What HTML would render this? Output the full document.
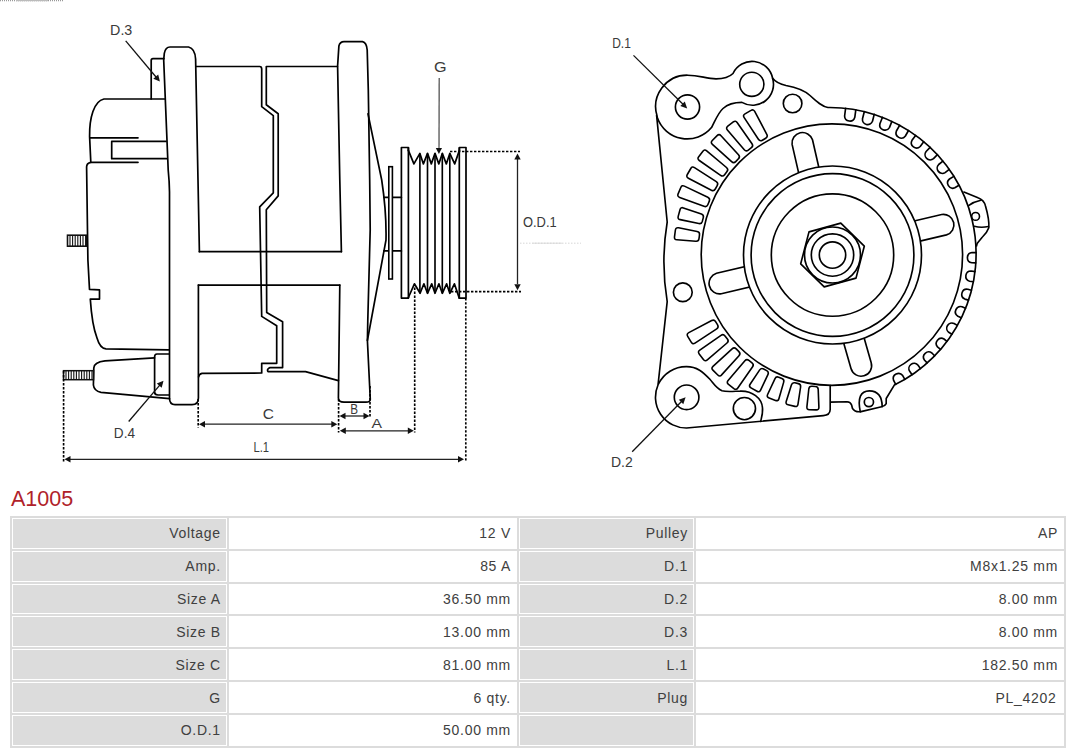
<!DOCTYPE html>
<html><head><meta charset="utf-8"><style>
html,body{margin:0;padding:0;background:#fff;}
body{width:1080px;height:753px;overflow:hidden;position:relative;font-family:"Liberation Sans",sans-serif;}
svg{position:absolute;left:0;top:0;}
h1{position:absolute;left:11px;top:484.5px;margin:0;font-size:21.5px;font-weight:normal;color:#b0222a;line-height:28px;}
table{position:absolute;left:10px;top:515.8px;width:1056px;border-collapse:separate;border-spacing:2px;background:#dcdcdc;}
th,td{border:1px solid #fff;padding:0 5px 0 0;height:30.86px;box-sizing:border-box;text-align:right;font-size:14px;font-weight:normal;color:#404040;letter-spacing:0.7px;}
th{background:#dcdcdc;}
td{background:#fff;}
.c1{width:215px} .c2{width:288.4px} .c3{width:175.2px} .c4{width:368.3px}
</style></head><body>
<svg width="1080" height="475" viewBox="0 0 1080 475">
<line x1="0" y1="0.6" x2="63" y2="0.6" stroke="#999" stroke-width="1.2" stroke-dasharray="1,1"/><line x1="16" y1="0.6" x2="48" y2="0.6" stroke="#bbb" stroke-width="1.2"/>
<path fill="none" stroke="#000" stroke-width="1.7" stroke-linejoin="round" stroke-linecap="round" d="M151.2,99 L151.2,60.5 Q151.2,58.7 153,58.7 L163.9,58.7"/>
<path fill="none" stroke="#000" stroke-width="1.7" stroke-linejoin="round" stroke-linecap="round" d="M164.5,99 L103.9,99 C94,101 89.3,118 89.6,136.6 L90.8,162.3"/>
<path fill="none" stroke="#000" stroke-width="1.7" stroke-linejoin="round" stroke-linecap="round" d="M90.2,137.8 L138,137.8"/>
<path fill="none" stroke="#000" stroke-width="1.7" stroke-linejoin="round" stroke-linecap="round" d="M166,141.4 L111.7,141.4 L111.7,158.7 L166.5,158.7"/>
<path fill="none" stroke="#000" stroke-width="1.7" stroke-linejoin="round" stroke-linecap="round" d="M138,162.3 L90.8,162.3 Q86.6,163 86.6,167 L87.9,260 L89.5,289.4 L99.5,289.9 L99.5,299.1 L90.3,299.1 Q92,325 97,338 Q100,348.5 106,348.8 L168.5,349.8"/>
<path fill="none" stroke="#000" stroke-width="1.7" stroke-linejoin="round" stroke-linecap="round" d="M169.5,398 L169.5,192 Q169.4,182 168.2,170 L163.7,60 L164.3,53.3 Q165.5,47 170,47 L188.6,47 Q195,48.5 195.6,59 L198,180 L199.4,251.7 M198.4,285 L198.4,398 Q198.4,404.6 192,404.6 L175,404.6 Q169.5,404.6 169.5,398"/>
<rect x="67.5" y="235.2" width="19" height="11" fill="#fff" stroke="#111" stroke-width="1.6"/>
<line x1="70" y1="235.5" x2="70" y2="246" stroke="#111" stroke-width="1.1"/>
<line x1="72.6" y1="235.5" x2="72.6" y2="246" stroke="#111" stroke-width="1.1"/>
<line x1="75.2" y1="235.5" x2="75.2" y2="246" stroke="#111" stroke-width="1.1"/>
<line x1="77.8" y1="235.5" x2="77.8" y2="246" stroke="#111" stroke-width="1.1"/>
<line x1="80.4" y1="235.5" x2="80.4" y2="246" stroke="#111" stroke-width="1.1"/>
<line x1="83" y1="235.5" x2="83" y2="246" stroke="#111" stroke-width="1.1"/>
<line x1="85.6" y1="235.5" x2="85.6" y2="246" stroke="#111" stroke-width="1.1"/>
<path fill="none" stroke="#000" stroke-width="1.7" stroke-linejoin="round" stroke-linecap="round" d="M154.6,357.8 L105,360.8 Q94,362 93.8,368 L93.4,385 Q94,391 101,392.3 L169.5,398.6"/>
<path fill="none" stroke="#000" stroke-width="1.7" stroke-linejoin="round" stroke-linecap="round" d="M169,354 L157,354 Q154.6,354 154.6,357 L154.6,392 Q154.6,395 158,395 L169,395"/>
<rect x="63.5" y="370.7" width="30" height="9" fill="#fff" stroke="#111" stroke-width="1.5"/>
<line x1="66" y1="371" x2="66" y2="379.5" stroke="#111" stroke-width="1.1"/>
<line x1="68.6" y1="371" x2="68.6" y2="379.5" stroke="#111" stroke-width="1.1"/>
<line x1="71.2" y1="371" x2="71.2" y2="379.5" stroke="#111" stroke-width="1.1"/>
<line x1="73.8" y1="371" x2="73.8" y2="379.5" stroke="#111" stroke-width="1.1"/>
<line x1="76.4" y1="371" x2="76.4" y2="379.5" stroke="#111" stroke-width="1.1"/>
<line x1="79" y1="371" x2="79" y2="379.5" stroke="#111" stroke-width="1.1"/>
<line x1="81.6" y1="371" x2="81.6" y2="379.5" stroke="#111" stroke-width="1.1"/>
<line x1="84.2" y1="371" x2="84.2" y2="379.5" stroke="#111" stroke-width="1.1"/>
<line x1="86.8" y1="371" x2="86.8" y2="379.5" stroke="#111" stroke-width="1.1"/>
<line x1="89.4" y1="371" x2="89.4" y2="379.5" stroke="#111" stroke-width="1.1"/>
<line x1="92" y1="371" x2="92" y2="379.5" stroke="#111" stroke-width="1.1"/>
<path fill="none" stroke="#000" stroke-width="1.7" stroke-linejoin="round" stroke-linecap="round" d="M195.8,66.5 L259.7,66.5 Q261.7,66.5 261.7,69 L261.7,106.7 L273.3,115.7 L273.3,192.9 L259.7,206.9 L261.7,316.4 L276.7,325.8 L276.7,363.3 L261.7,363.3 L261.7,373 L202,373.3 Q199,373.8 198.6,377"/>
<path fill="none" stroke="#000" stroke-width="1.7" stroke-linejoin="round" stroke-linecap="round" d="M337.4,66.5 L266.3,66.5 L266.3,104.7 L278.2,113.7 L278.2,195.9 L266.3,209.8 L266.7,312.4 L282.6,321.8 L282.6,367.6 L270,367.6 Q266.5,369 268,371.6 L305.5,371.6 L338.4,380.6"/>
<path fill="none" stroke="#000" stroke-width="1.7" stroke-linejoin="round" stroke-linecap="round" d="M199.4,251.7 L341.4,251.7 M198.4,285.1 L339.8,285.1"/>
<path fill="none" stroke="#000" stroke-width="1.7" stroke-linejoin="round" stroke-linecap="round" d="M341.4,251.7 L339.8,180 L337.6,66 L338.9,45.9 Q340,41.6 344,41.6 L362.5,41.6 Q366.6,42.5 367.2,50 L368.3,90 L369.7,180 L370.2,230 L367.8,320 L367.4,340.5 L370.3,399.5 Q370,402.2 366,402.2 L344,402.2 Q338.4,402 338.4,398 L339.8,285.1"/>
<path fill="none" stroke="#000" stroke-width="1.7" stroke-linejoin="round" stroke-linecap="round" d="M368,113.9 L381.7,180 Q386.6,212 386,240 L367.4,340.5"/>
<path fill="none" stroke="#000" stroke-width="1.7" stroke-linejoin="round" stroke-linecap="round" d="M384,197.3 L388.8,197.3 M392.4,197.3 L401.4,197.3 M383.9,250.9 L388.8,250.9 M392.4,250.9 L401.4,250.9"/>
<rect x="388.8" y="166.7" width="3.6" height="112.3" fill="#fff" stroke="#000" stroke-width="1.6"/>
<path fill="none" stroke="#000" stroke-width="1.7" stroke-linejoin="round" stroke-linecap="round" d="M408.4,150.4 L408.4,147.5 L401.4,147.5 L401.4,298.1 L408.4,298.1 L408.4,297.5"/>
<path fill="none" stroke="#000" stroke-width="1.7" stroke-linejoin="round" stroke-linecap="round" d="M459.4,150.4 L459.4,147.5 L466,147.5 L466,298.1 L459.2,298.1"/>
<line x1="408.4" y1="147.5" x2="408.4" y2="298.1" stroke="#000" stroke-width="1.7"/>
<line x1="459.3" y1="147.5" x2="459.3" y2="298.1" stroke="#000" stroke-width="1.7"/>
<polyline fill="none" stroke="#000" stroke-width="1.7" stroke-linejoin="round" stroke-linecap="round" points="408.4,150.4 413.9,163.9 419.9,153.4 423.4,163.9 427.5,153.4 431.3,163.9 435,153.4 438.8,163.9 442.3,153.4 446.3,163.9 449.8,153.4 454.7,163.9 459.4,150.4"/>
<polyline fill="none" stroke="#000" stroke-width="1.7" stroke-linejoin="round" stroke-linecap="round" points="408.4,297.5 414.4,283.8 420.1,293.3 423.9,283.8 427.5,293.3 431.7,283.8 435,293.3 438.9,283.8 442.3,293.3 446.6,283.8 449.8,293.3 454.4,283.8 459.2,298.1"/>
<line x1="419.9" y1="153.4" x2="419.9" y2="293.3" stroke="#000" stroke-width="1.65"/>
<line x1="427.5" y1="153.4" x2="427.5" y2="293.3" stroke="#000" stroke-width="1.65"/>
<line x1="435" y1="153.4" x2="435" y2="293.3" stroke="#000" stroke-width="1.65"/>
<line x1="442.3" y1="153.4" x2="442.3" y2="293.3" stroke="#000" stroke-width="1.65"/>
<line x1="449.8" y1="153.4" x2="449.8" y2="293.3" stroke="#000" stroke-width="1.65"/>
<line x1="450" y1="151.5" x2="520" y2="151.5" stroke="#000" stroke-width="1.65" stroke-dasharray="2.4,1.6" fill="none"/>
<line x1="451" y1="291.6" x2="521" y2="291.6" stroke="#000" stroke-width="1.65" stroke-dasharray="2.4,1.6" fill="none"/>
<line x1="517.5" y1="158" x2="517.5" y2="284" stroke="#222" stroke-width="1.3" fill="none"/>
<polygon points="517.5,153.5 520.7,159.5 514.3,159.5" fill="#111"/>
<polygon points="517.5,290.3 514.3,284.3 520.7,284.3" fill="#111"/>
<line x1="520" y1="243.2" x2="581" y2="243.2" stroke="#ccc" stroke-width="0.8" stroke-dasharray="1.5,1.5"/><line x1="532.5" y1="243.2" x2="562" y2="243.2" stroke="#d4d4d4" stroke-width="0.8"/>
<line x1="439.2" y1="78" x2="439" y2="149" stroke="#555" stroke-width="1.3"/>
<polygon points="438.9,154 435.8,148 442,148" fill="#111"/>
<line x1="63.6" y1="371" x2="63.6" y2="461.5" stroke="#000" stroke-width="1.65" stroke-dasharray="2.4,1.6" fill="none"/>
<line x1="198.2" y1="399" x2="198.2" y2="427.5" stroke="#000" stroke-width="1.65" stroke-dasharray="2.4,1.6" fill="none"/>
<line x1="338.6" y1="399" x2="338.6" y2="432.6" stroke="#000" stroke-width="1.65" stroke-dasharray="2.4,1.6" fill="none"/>
<line x1="370" y1="386" x2="370" y2="417.5" stroke="#000" stroke-width="1.65" stroke-dasharray="2.4,1.6" fill="none"/>
<line x1="414.7" y1="287.5" x2="414.7" y2="432.6" stroke="#000" stroke-width="1.65" stroke-dasharray="2.4,1.6" fill="none"/>
<line x1="465.8" y1="298.2" x2="465.8" y2="461.6" stroke="#000" stroke-width="1.65" stroke-dasharray="2.4,1.6" fill="none"/>
<line x1="204" y1="424.2" x2="332" y2="424.2" stroke="#222" stroke-width="1.3" fill="none"/>
<polygon points="199,424.2 205,421 205,427.4" fill="#111"/>
<polygon points="337.3,424.2 331.3,427.4 331.3,421" fill="#111"/>
<line x1="344" y1="416" x2="365" y2="416" stroke="#222" stroke-width="1.3" fill="none"/>
<polygon points="339.5,416 345.5,412.8 345.5,419.2" fill="#111"/>
<polygon points="369.5,416 363.5,419.2 363.5,412.8" fill="#111"/>
<line x1="345" y1="430.8" x2="408.5" y2="430.8" stroke="#222" stroke-width="1.3" fill="none"/>
<polygon points="339.8,430.8 345.8,427.6 345.8,434" fill="#111"/>
<polygon points="413.8,430.8 407.8,434 407.8,427.6" fill="#111"/>
<line x1="70" y1="459.3" x2="459" y2="459.3" stroke="#222" stroke-width="1.3" fill="none"/>
<polygon points="64.5,459.3 70.5,456.1 70.5,462.5" fill="#111"/>
<polygon points="464,459.3 458,462.5 458,456.1" fill="#111"/>
<line x1="125.7" y1="40.9" x2="156" y2="77" stroke="#111" stroke-width="1.3"/>
<polygon points="159.9,81.6 153.3,78.7 158.2,74.6" fill="#111"/>
<line x1="128.7" y1="421.5" x2="160" y2="384.8" stroke="#111" stroke-width="1.3"/>
<polygon points="163.5,380.7 161.7,387.7 156.8,383.6" fill="#111"/>
<path fill="none" stroke="#000" stroke-width="1.65" stroke-linejoin="round" stroke-linecap="round" fill="#fff" d="M805.5,202.9 L792.1,144.4 A10.5,10.5 0 0 1 812.5,139.8 L825.9,198.2"/>
<path fill="none" stroke="#000" stroke-width="1.65" stroke-linejoin="round" stroke-linecap="round" fill="#fff" d="M883.3,228.2 L941.7,214.5 A10.5,10.5 0 0 1 946.5,234.9 L888.1,248.6"/>
<path fill="none" stroke="#000" stroke-width="1.65" stroke-linejoin="round" stroke-linecap="round" fill="#fff" d="M854.7,305.1 L871.2,362.8 A10.5,10.5 0 0 1 851,368.6 L834.5,310.9"/>
<path fill="none" stroke="#000" stroke-width="1.65" stroke-linejoin="round" stroke-linecap="round" fill="#fff" d="M779.7,279.9 L721.3,293.7 A10.5,10.5 0 0 1 716.5,273.3 L774.9,259.5"/>
<circle cx="832.5" cy="255" r="89" fill="#fff" stroke="#000" stroke-width="1.65"/>
<circle cx="832.5" cy="255" r="81.4" fill="none" stroke="#000" stroke-width="1.65"/>
<circle cx="832.5" cy="255" r="61.2" fill="none" stroke="#000" stroke-width="1.65"/>
<circle cx="832.5" cy="255" r="28" fill="none" stroke="#000" stroke-width="1.65"/>
<circle cx="832.5" cy="255" r="21.2" fill="none" stroke="#000" stroke-width="1.65"/>
<circle cx="832.5" cy="255" r="13.2" fill="none" stroke="#000" stroke-width="1.65"/>
<circle cx="831.9" cy="254.6" r="130.7" fill="none" stroke="#000" stroke-width="1.65"/>
<polygon fill="none" stroke="#000" stroke-width="1.65" stroke-linejoin="round" stroke-linecap="round" points="864.3,246.2 856,278.1 824.2,286.9 800.7,263.8 809,231.9 840.8,223.1"/>
<path fill="none" stroke="#000" stroke-width="1.65" stroke-linejoin="round" stroke-linecap="round" d="M656.6,115.3 L667.2,222 Q660.6,261.8 667.2,301.6 L658,385 M657.2,116.5 A31.6,31.6 0 0 1 687.5,75.2 C700,75.2 706,78.8 716,78.8 C724,78.8 729,77.5 733,73.5 A21,21 0 0 1 772.6,78.2 C776,82.5 779,84 786,85.5 C797,87.5 804,90 810,95.5 C817,102 822,106.5 827.9,107.5 A146.3,146.3 0 0 1 894.3,385.1 L886.2,398.5 L886.2,403.6 Q885,406.2 881.6,406.7 L861,411.6 Q855.2,412.5 852.5,408.5 L851.6,405 Q850.5,402.1 847,401.8 L830.2,402.1 M830.2,385.5 L830.2,409.5 Q830,415.3 823.3,415.6 L686.6,428 A30.8,30.8 0 0 1 658,385"/>
<path fill="none" stroke="#000" stroke-width="1.65" stroke-linejoin="round" stroke-linecap="round" d="M657.3,117.5 A31.6,31.6 0 0 0 711.7,127.3 C715,121 718,113 723,108.5 C728,104 735,102.4 741.9,102.4 A21,21 0 0 0 772.6,78.2"/>
<circle cx="751.8" cy="84.3" r="12.1" fill="none" stroke="#000" stroke-width="1.65"/>
<circle cx="687.5" cy="107" r="12.1" fill="none" stroke="#000" stroke-width="1.65"/>
<circle cx="792.6" cy="103.5" r="9.3" fill="none" stroke="#000" stroke-width="1.65"/>
<circle cx="682.8" cy="292.2" r="9.4" fill="none" stroke="#000" stroke-width="1.65"/>
<path fill="none" stroke="#000" stroke-width="1.65" stroke-linejoin="round" stroke-linecap="round" d="M658.5,384 A30.8,30.8 0 0 1 686.6,366.6 C697,366.6 703,372 709.9,379.3 C714,384 716,388 722,390.8 C727,392.2 735,391.2 740,391.1 C752,390.5 762,398 762.5,408 C763,414 761.5,418 760.6,421.5"/>
<circle cx="686.6" cy="397.3" r="12.3" fill="none" stroke="#000" stroke-width="1.65"/>
<circle cx="744.4" cy="408.6" r="11.1" fill="none" stroke="#000" stroke-width="1.65"/>
<path fill="none" stroke="#000" stroke-width="1.65" stroke-linejoin="round" stroke-linecap="round" d="M963.9,192 L978,197.8 Q984,200 985.5,206 Q989.5,220 988.8,227.8 Q987,233 982,237.5 L977.5,243 Q976.6,244.5 976.6,246"/>
<path fill="none" stroke="#000" stroke-width="1.65" stroke-linejoin="round" stroke-linecap="round" d="M968.9,205.4 Q974,201.5 980.8,200.2 M974.4,226.3 Q981,228 988.5,226.5"/>
<circle cx="975.6" cy="216.4" r="3.9" fill="none" stroke="#000" stroke-width="1.6"/>
<path fill="none" stroke="#000" stroke-width="1.65" stroke-linejoin="round" stroke-linecap="round" d="M860.3,411.8 Q856,391 869.4,390.9 Q882,391 882.2,406.7"/>
<circle cx="868.9" cy="402.1" r="4.6" fill="none" stroke="#000" stroke-width="1.7"/>
<path fill="none" stroke="#000" stroke-width="1.65" stroke-linejoin="round" stroke-linecap="round" stroke-width="1.6" d="M855.8,109.8 L854.8,117.3 A5.2,5.2 0 0 1 844.6,116 L845.6,108.4"/>
<path fill="none" stroke="#000" stroke-width="1.65" stroke-linejoin="round" stroke-linecap="round" stroke-width="1.6" d="M874.2,114.4 L872.5,121.3 A5.2,5.2 0 0 1 862.5,118.7 L864.3,111.7"/>
<path fill="none" stroke="#000" stroke-width="1.65" stroke-linejoin="round" stroke-linecap="round" stroke-width="1.6" d="M891.9,121.4 L889.4,127.6 A5.2,5.2 0 0 1 879.9,123.7 L882.5,117.3"/>
<path fill="none" stroke="#000" stroke-width="1.65" stroke-linejoin="round" stroke-linecap="round" stroke-width="1.6" d="M908.5,130.5 L905.4,136 A5.2,5.2 0 0 1 896.4,131 L899.6,125.3"/>
<path fill="none" stroke="#000" stroke-width="1.65" stroke-linejoin="round" stroke-linecap="round" stroke-width="1.6" d="M923.7,141.7 L920.2,146.5 A5.2,5.2 0 0 1 912,140.3 L915.6,135.4"/>
<path fill="none" stroke="#000" stroke-width="1.65" stroke-linejoin="round" stroke-linecap="round" stroke-width="1.6" d="M937.4,154.7 L933.5,158.7 A5.2,5.2 0 0 1 926.1,151.5 L930.1,147.4"/>
<path fill="none" stroke="#000" stroke-width="1.65" stroke-linejoin="round" stroke-linecap="round" stroke-width="1.6" d="M949.2,169.4 L945.1,172.6 A5.2,5.2 0 0 1 938.7,164.5 L942.9,161.2"/>
<path fill="none" stroke="#000" stroke-width="1.65" stroke-linejoin="round" stroke-linecap="round" stroke-width="1.6" d="M959,185.3 L954.8,187.8 A5.2,5.2 0 0 1 949.5,179 L953.8,176.4"/>
<path fill="none" stroke="#000" stroke-width="1.65" stroke-linejoin="round" stroke-linecap="round" stroke-width="1.6" d="M975.7,262.9 L971.8,262.8 A5.2,5.2 0 0 1 972,252.5 L976,252.6"/>
<path fill="none" stroke="#000" stroke-width="1.65" stroke-linejoin="round" stroke-linecap="round" stroke-width="1.6" d="M973.3,281.8 L969.6,281.2 A5.2,5.2 0 0 1 971.1,271 L974.9,271.6"/>
<path fill="none" stroke="#000" stroke-width="1.65" stroke-linejoin="round" stroke-linecap="round" stroke-width="1.6" d="M968.5,300.1 L964.9,299.1 A5.2,5.2 0 0 1 967.8,289.2 L971.4,290.2"/>
<path fill="none" stroke="#000" stroke-width="1.65" stroke-linejoin="round" stroke-linecap="round" stroke-width="1.6" d="M961.3,317.7 L957.9,316.2 A5.2,5.2 0 0 1 962.1,306.8 L965.5,308.3"/>
<path fill="none" stroke="#000" stroke-width="1.65" stroke-linejoin="round" stroke-linecap="round" stroke-width="1.6" d="M951.9,334.2 L948.7,332.3 A5.2,5.2 0 0 1 954.1,323.5 L957.3,325.4"/>
<path fill="none" stroke="#000" stroke-width="1.65" stroke-linejoin="round" stroke-linecap="round" stroke-width="1.6" d="M940.5,349.4 L937.5,346.9 A5.2,5.2 0 0 1 944,339 L946.9,341.3"/>
<path fill="none" stroke="#000" stroke-width="1.65" stroke-linejoin="round" stroke-linecap="round" stroke-width="1.6" d="M927.1,362.9 L924.4,360 A5.2,5.2 0 0 1 931.9,353 L934.6,355.8"/>
<path fill="none" stroke="#000" stroke-width="1.65" stroke-linejoin="round" stroke-linecap="round" stroke-width="1.6" d="M912.1,374.7 L909.7,371.3 A5.2,5.2 0 0 1 918.1,365.2 L920.4,368.6"/>
<path fill="none" stroke="#000" stroke-width="1.65" stroke-linejoin="round" stroke-linecap="round" stroke-width="1.6" d="M895.7,384.4 L893.6,380.4 A5.2,5.2 0 0 1 902.7,375.6 L904.8,379.4"/>
<path fill="none" stroke="#000" stroke-width="1.6" stroke-linejoin="round" d="M699.5,234.8 Q699.9,232 697.1,231.5 L678.6,227.8 Q675.8,227.2 675.4,230 L674.5,236.8 Q674.1,239.6 676.9,239.8 L695.8,241.2 Q698.6,241.5 699,238.7 Z"/>
<path fill="none" stroke="#000" stroke-width="1.6" stroke-linejoin="round" d="M703.3,217.6 Q704,214.9 701.4,214 L683.4,207.9 Q680.8,207 680,209.7 L678.2,216.4 Q677.5,219.1 680.2,219.6 L698.8,223.5 Q701.5,224.1 702.3,221.4 Z"/>
<path fill="none" stroke="#000" stroke-width="1.6" stroke-linejoin="round" d="M709.3,201.1 Q710.4,198.5 707.8,197.3 L684.4,186.1 Q681.9,184.9 680.8,187.5 L678.1,193.9 Q677,196.4 679.7,197.4 L704,206.3 Q706.7,207.3 707.8,204.7 Z"/>
<path fill="none" stroke="#000" stroke-width="1.6" stroke-linejoin="round" d="M717.2,185.7 Q718.6,183.2 716.3,181.7 L694.5,167.6 Q692.2,166.1 690.8,168.5 L687.3,174.5 Q685.9,176.9 688.4,178.2 L711.4,190.2 Q713.9,191.4 715.3,189 Z"/>
<path fill="none" stroke="#000" stroke-width="1.6" stroke-linejoin="round" d="M727,171.6 Q728.7,169.4 726.5,167.5 L706.7,150.8 Q704.6,149 702.9,151.2 L698.7,156.7 Q697,158.9 699.3,160.5 L720.6,175.3 Q722.9,176.9 724.6,174.7 Z"/>
<path fill="none" stroke="#000" stroke-width="1.6" stroke-linejoin="round" d="M738.4,158.8 Q740.4,156.9 738.5,154.8 L721,135.7 Q719.1,133.6 717.1,135.6 L712.3,140.5 Q710.3,142.5 712.4,144.3 L731.6,161.7 Q733.7,163.6 735.7,161.6 Z"/>
<path fill="none" stroke="#000" stroke-width="1.6" stroke-linejoin="round" d="M751.4,147.7 Q753.6,146 752,143.7 L737.1,122.5 Q735.5,120.2 733.3,121.9 L727.8,126.1 Q725.6,127.9 727.4,130 L744.3,149.7 Q746.1,151.8 748.3,150.1 Z"/>
<path fill="none" stroke="#000" stroke-width="1.6" stroke-linejoin="round" d="M765.7,138.2 Q768.1,136.8 766.8,134.3 L754.7,111.4 Q753.4,108.9 751,110.4 L745,113.9 Q742.6,115.3 744.2,117.6 L758.4,139.3 Q759.9,141.6 762.4,140.2 Z"/>
<path fill="none" stroke="#000" stroke-width="1.6" stroke-linejoin="round" d="M715.6,321.6 Q714.2,319.2 711.7,320.5 L688.8,332.6 Q686.3,333.9 687.7,336.3 L691.2,342.2 Q692.6,344.6 695,343.1 L716.7,328.9 Q719,327.4 717.6,324.9 Z"/>
<path fill="none" stroke="#000" stroke-width="1.6" stroke-linejoin="round" d="M725,335.9 Q723.3,333.7 721,335.3 L699.8,350.2 Q697.5,351.8 699.2,354 L703.4,359.5 Q705.2,361.7 707.3,359.9 L727,343 Q729.1,341.2 727.4,339 Z"/>
<path fill="none" stroke="#000" stroke-width="1.6" stroke-linejoin="round" d="M736.2,348.9 Q734.2,346.9 732.1,348.8 L713,366.3 Q710.9,368.2 712.9,370.1 L717.8,375 Q719.8,377 721.6,374.9 L739,355.7 Q740.9,353.6 738.9,351.6 Z"/>
<path fill="none" stroke="#000" stroke-width="1.6" stroke-linejoin="round" d="M748.9,360.4 Q746.7,358.7 744.9,360.8 L728.1,380.6 Q726.3,382.7 728.5,384.4 L733.9,388.6 Q736.2,390.3 737.8,388 L752.6,366.8 Q754.2,364.5 752,362.8 Z"/>
<path fill="none" stroke="#000" stroke-width="1.6" stroke-linejoin="round" d="M763.7,369 Q761.3,367.6 759.7,369.9 L750.1,384.2 Q748.6,386.5 751,387.9 L757,391.3 Q759.4,392.7 760.6,390.1 L767.9,374.6 Q769.1,372 766.7,370.6 Z"/>
<path fill="none" stroke="#000" stroke-width="1.6" stroke-linejoin="round" d="M778.7,377.2 Q776.1,376.2 774.9,378.8 L767.6,394.5 Q766.4,397 769.1,398 L775.5,400.4 Q778.2,401.4 778.9,398.7 L783.7,382.1 Q784.5,379.4 781.9,378.4 Z"/>
<path fill="none" stroke="#000" stroke-width="1.6" stroke-linejoin="round" d="M794.9,382.8 Q792.2,382.2 791.4,384.9 L786.2,401.5 Q785.4,404.2 788.1,404.8 L794.9,406.4 Q797.6,407 798,404.2 L800.6,387 Q801,384.2 798.3,383.6 Z"/>
<path fill="none" stroke="#000" stroke-width="1.6" stroke-linejoin="round" d="M811.9,386.3 Q809.1,386.2 808.8,389 L806.9,406.8 Q806.6,409.6 809.4,409.7 L816.2,409.9 Q819,410 818.9,407.2 L818.2,389.4 Q818.1,386.6 815.3,386.5 Z"/>
<line x1="633.5" y1="55.4" x2="683" y2="104.2" stroke="#111" stroke-width="1.3"/>
<polygon points="687.2,108.4 680.3,106.1 684.8,101.6" fill="#111"/>
<line x1="632.2" y1="451.7" x2="681.5" y2="401.5" stroke="#111" stroke-width="1.3"/>
<polygon points="685.6,397.3 683.3,404.2 678.8,399.7" fill="#111"/>
<text x="110.1" y="35" font-family="Liberation Sans, sans-serif" fill="#3a3a3a" font-size="15" textLength="22.2" lengthAdjust="spacingAndGlyphs">D.3</text>
<text x="113.8" y="438.4" font-family="Liberation Sans, sans-serif" fill="#3a3a3a" font-size="15" textLength="21.2" lengthAdjust="spacingAndGlyphs">D.4</text>
<text x="434.0" y="71.9" font-family="Liberation Sans, sans-serif" fill="#3a3a3a" font-size="14.5" textLength="12.6" lengthAdjust="spacingAndGlyphs">G</text>
<text x="523.0" y="227.2" font-family="Liberation Sans, sans-serif" fill="#3a3a3a" font-size="14.8" textLength="33.7" lengthAdjust="spacingAndGlyphs">O.D.1</text>
<text x="262.8" y="419.4" font-family="Liberation Sans, sans-serif" fill="#3a3a3a" font-size="14" textLength="11.2" lengthAdjust="spacingAndGlyphs">C</text>
<text x="350.20000000000005" y="413.5" font-family="Liberation Sans, sans-serif" fill="#3a3a3a" font-size="14" textLength="7.8" lengthAdjust="spacingAndGlyphs">B</text>
<text x="371.5" y="427.9" font-family="Liberation Sans, sans-serif" fill="#3a3a3a" font-size="13" textLength="10.5" lengthAdjust="spacingAndGlyphs">A</text>
<text x="253.4" y="452" font-family="Liberation Sans, sans-serif" fill="#3a3a3a" font-size="14" textLength="15.6" lengthAdjust="spacingAndGlyphs">L.1</text>
<text x="612.2" y="48" font-family="Liberation Sans, sans-serif" fill="#3a3a3a" font-size="14.2" textLength="18.7" lengthAdjust="spacingAndGlyphs">D.1</text>
<text x="611.0" y="467.4" font-family="Liberation Sans, sans-serif" fill="#3a3a3a" font-size="14.5" textLength="21.8" lengthAdjust="spacingAndGlyphs">D.2</text>
</svg>
<h1>A1005</h1>
<table><colgroup><col class="c1"><col class="c2"><col class="c3"><col class="c4"></colgroup>
<tr><th>Voltage</th><td>12 V</td><th>Pulley</th><td>AP</td></tr>
<tr><th>Amp.</th><td>85 A</td><th>D.1</th><td>M8x1.25 mm</td></tr>
<tr><th>Size A</th><td>36.50 mm</td><th>D.2</th><td>8.00 mm</td></tr>
<tr><th>Size B</th><td>13.00 mm</td><th>D.3</th><td>8.00 mm</td></tr>
<tr><th>Size C</th><td>81.00 mm</td><th>L.1</th><td>182.50 mm</td></tr>
<tr><th>G</th><td>6 qty.</td><th>Plug</th><td><span style="margin-right:1.5px">PL_4202</span></td></tr>
<tr><th>O.D.1</th><td>50.00 mm</td><th></th><td></td></tr>
</table>
</body></html>
